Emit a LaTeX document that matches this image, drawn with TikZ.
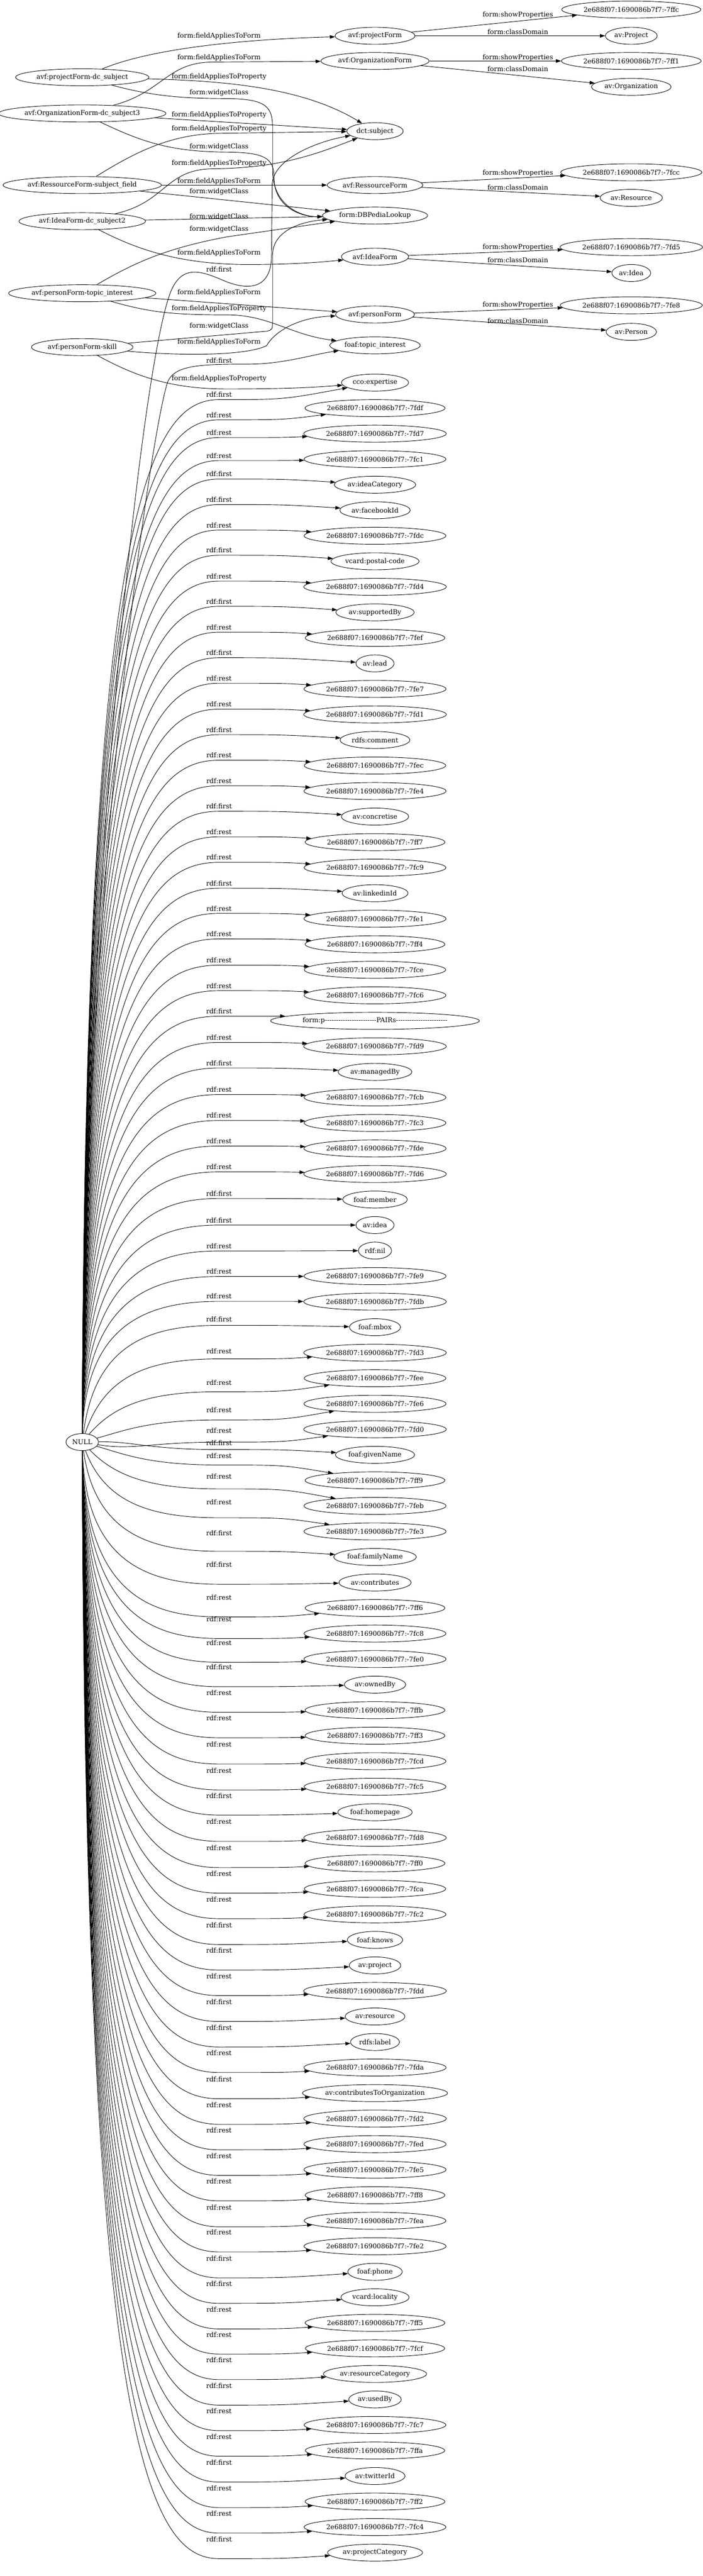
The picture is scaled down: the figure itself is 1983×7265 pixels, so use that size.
\documentclass[tikz,border=0pt]{standalone}
\usepackage{fontspec}
\setmainfont{DejaVu Serif}
\usetikzlibrary{arrows.meta, shapes.geometric}
\begin{document}
\begin{tikzpicture}[x=0.75pt, y=-0.75pt,
  res/.style={draw, ellipse, line width=1pt, minimum height=36pt, inner xsep=3pt, inner ysep=0pt, font=\fontsize{14}{16}\selectfont},
  lab/.style={inner sep=0pt, font=\fontsize{14}{16}\selectfont},
  rel/.style={line width=1pt, -{Triangle[length=11pt, width=7.5pt]}}]
\useasboundingbox (0,0) rectangle (1983,7265);
\def\cA{232}
\def\cB{1058}
\def\cC{1781}
\def\lA{618}
\def\lB{1461}
\def\hy{-\kern0pt}
\def\dashrun{\hy\hy\hy\hy\hy\hy\hy\hy\hy\hy\hy\hy\hy\hy\hy\hy\hy\hy\hy\hy\hy\hy\hy}

\node[res] (pfs) at (\cA,218) {avf:projectForm-dc\_subject};
\node[res] (ofs) at (\cA,320) {avf:OrganizationForm-dc\_subject3};
\node[res] (rfs) at (\cA,522) {avf:RessourceForm-subject\_field};
\node[res] (ifs) at (\cA,624) {avf:IdeaForm-dc\_subject2};
\node[res] (pti) at (\cA,827) {avf:personForm-topic\_interest};
\node[res] (psk) at (\cA,979) {avf:personForm-skill};
\node[res] (null) at (\cA,4067) {NULL};

\node[res] (pf) at (\cB,101) {avf:projectForm};
\node[res] (of) at (\cB,172) {avf:OrganizationForm};
\node[res] (dct) at (\cB,370) {dct:subject};
\node[res] (rf) at (\cB,522) {avf:RessourceForm};
\node[res] (dbp) at (\cB,608) {form:DBPediaLookup};
\node[res] (idf) at (\cB,724) {avf:IdeaForm};
\node[res] (psf) at (\cB,887) {avf:personForm};
\node[res] (fti) at (\cB,974) {foaf:topic\_interest};

\node[res] (sp1) at (\cC,27) {2e688f07:1690086b7f7:-7ffc};
\node[res] (dPro) at (\cC,101) {av:Project};
\node[res] (sp2) at (\cC,172) {2e688f07:1690086b7f7:-7ff1};
\node[res] (dOrg) at (\cC,245) {av:Organization};
\node[res] (sp3) at (\cC,486) {2e688f07:1690086b7f7:-7fcc};
\node[res] (dRes) at (\cC,558) {av:Resource};
\node[res] (sp4) at (\cC,697) {2e688f07:1690086b7f7:-7fd5};
\node[res] (dIde) at (\cC,770) {av:Idea};
\node[res] (sp5) at (\cC,861) {2e688f07:1690086b7f7:-7fe8};
\node[res] (dPer) at (\cC,936) {av:Person};

\draw[rel] (pf) -- (sp1);
\node[lab] at (\lB,42) {form:showProperties};
\draw[rel] (pf) -- (dPro);
\node[lab] at (\lB,90) {form:classDomain};
\draw[rel] (of) -- (sp2);
\node[lab] at (\lB,162) {form:showProperties};
\draw[rel] (of) -- (dOrg);
\node[lab] at (\lB,194) {form:classDomain};
\draw[rel] (rf) -- (sp3);
\node[lab] at (\lB,488) {form:showProperties};
\draw[rel] (rf) -- (dRes);
\node[lab] at (\lB,528) {form:classDomain};
\draw[rel] (idf) -- (sp4);
\node[lab] at (\lB,697) {form:showProperties};
\draw[rel] (idf) -- (dIde);
\node[lab] at (\lB,733) {form:classDomain};
\draw[rel] (psf) -- (sp5);
\node[lab] at (\lB,860) {form:showProperties};
\draw[rel] (psf) -- (dPer);
\node[lab] at (\lB,905) {form:classDomain};

\draw[rel] (pfs) .. controls (430,135) and (700,110) .. (pf);
\node[lab] at (\lA,101) {form:fieldAppliesToForm};
\draw[rel] (ofs) .. controls (460,260) and (470,176) .. (600,175) -- (of);
\node[lab] at (\lA,162) {form:fieldAppliesToForm};
\draw[rel] (pfs) .. controls (650,228) and (860,250) .. (dct);
\node[lab] at (\lA,216) {form:fieldAppliesToProperty};
\draw[rel] (pfs) .. controls (420,268) and (500,278) .. (640,278) .. controls (750,279) and (769,300) .. (769,360) -- (769,480) .. controls (769,580) and (850,612) .. (dbp);
\node[lab] at (\lA,262) {form:widgetClass};
\draw[rel] (ofs) -- (dct);
\node[lab] at (\lA,324) {form:fieldAppliesToProperty};
\draw[rel] (ofs) .. controls (400,400) and (480,428) .. (640,429) .. controls (745,430) and (773,445) .. (773,500) .. controls (773,585) and (850,612) .. (dbp);
\node[lab] at (\lA,414) {form:widgetClass};
\draw[rel] (rfs) .. controls (380,430) and (480,378) .. (620,376) -- (dct);
\node[lab] at (\lA,364) {form:fieldAppliesToProperty};
\draw[rel] (ifs) .. controls (470,570) and (465,478) .. (600,476) .. controls (780,474) and (880,440) .. (dct);
\node[lab] at (\lA,460) {form:fieldAppliesToProperty};
\draw[rel] (rfs) -- (rf);
\node[lab] at (\lA,512) {form:fieldAppliesToForm};
\draw[rel] (rfs) -- (dbp);
\node[lab] at (\lA,541) {form:widgetClass};
\draw[rel] (ifs) -- (dbp);
\node[lab] at (\lA,612) {form:widgetClass};
\draw[rel] (pti) .. controls (380,740) and (470,700) .. (640,668) -- (dbp);
\node[lab] at (\lA,646) {form:widgetClass};
\draw[rel] (ifs) .. controls (380,700) and (500,746) .. (700,746) .. controls (820,746) and (900,740) .. (idf);
\node[lab] at (\lA,713) {form:fieldAppliesToForm};
\draw[rel] (null) .. controls (240,2500) and (400,1000) .. (485,815) .. controls (520,740) and (580,770) .. (640,795) .. controls (720,825) and (766,800) .. (766,720) -- (768,520) .. controls (770,450) and (890,400) .. (dct);
\node[lab] at (\lA,760) {rdf:first};
\draw[rel] (pti) -- (psf);
\node[lab] at (\lA,825) {form:fieldAppliesToForm};
\draw[rel] (pti) .. controls (420,880) and (480,888) .. (640,888) .. controls (760,888) and (820,945) .. (fti);
\node[lab] at (\lA,870) {form:fieldAppliesToProperty};
\draw[rel] (psk) -- (753,934) .. controls (769,930) .. (769,900) -- (769,720) .. controls (769,650) and (850,625) .. (dbp);
\node[lab] at (\lA,920) {form:widgetClass};
\draw[rel] (psk) .. controls (500,1003) and (690,1005) .. (752,975) .. controls (775,935) and (840,895) .. (psf);
\node[lab] at (\lA,965) {form:fieldAppliesToForm};
\draw[rel] (null) .. controls (240,2500) and (420,1250) .. (472,1080) .. controls (490,1030) and (560,1027) .. (700,1027) .. controls (800,1027) and (880,1000) .. (fti);
\node[lab] at (\lA,1016) {rdf:first};

\foreach \idx/\txt/\rl/\off in {
0/cco:expertise/first/34,
1/2e688f07:1690086b7f7:-7fdf/rest/19,
2/2e688f07:1690086b7f7:-7fd7/rest/-3,
3/2e688f07:1690086b7f7:-7fc1/rest/-10,
4/av:ideaCategory/first/-30,
5/av:facebookId/first/-30,
6/2e688f07:1690086b7f7:-7fdc/rest/-30,
7/vcard:postal-code/first/-31,
8/2e688f07:1690086b7f7:-7fd4/rest/-30,
9/av:supportedBy/first/-31,
10/2e688f07:1690086b7f7:-7fef/rest/-30,
11/av:lead/first/-30,
12/2e688f07:1690086b7f7:-7fe7/rest/-30,
13/2e688f07:1690086b7f7:-7fd1/rest/-29,
14/rdfs:comment/first/-29,
15/2e688f07:1690086b7f7:-7fec/rest/-29,
16/2e688f07:1690086b7f7:-7fe4/rest/-29,
17/av:concretise/first/-29,
18/2e688f07:1690086b7f7:-7ff7/rest/-29,
19/2e688f07:1690086b7f7:-7fc9/rest/-29,
20/av:linkedinId/first/-28,
21/2e688f07:1690086b7f7:-7fe1/rest/-29,
22/2e688f07:1690086b7f7:-7ff4/rest/-29,
23/2e688f07:1690086b7f7:-7fce/rest/-27,
24/2e688f07:1690086b7f7:-7fc6/rest/-27,
25/form:p\dashrun PAIRs\dashrun/first/-27,
26/2e688f07:1690086b7f7:-7fd9/rest/-25,
27/av:managedBy/first/-25,
28/2e688f07:1690086b7f7:-7fcb/rest/-22,
29/2e688f07:1690086b7f7:-7fc3/rest/-21,
30/2e688f07:1690086b7f7:-7fde/rest/-21,
31/2e688f07:1690086b7f7:-7fd6/rest/-20,
32/foaf:member/first/-17,
33/av:idea/first/-14,
34/rdf:nil/rest/-13,
35/2e688f07:1690086b7f7:-7fe9/rest/-13,
36/2e688f07:1690086b7f7:-7fdb/rest/-15,
37/foaf:mbox/first/-23,
38/2e688f07:1690086b7f7:-7fd3/rest/-4,
39/2e688f07:1690086b7f7:-7fee/rest/13,
40/2e688f07:1690086b7f7:-7fe6/rest/17,
41/2e688f07:1690086b7f7:-7fd0/rest/4,
42/foaf:givenName/first/-33,
43/2e688f07:1690086b7f7:-7ff9/rest/-70,
44/2e688f07:1690086b7f7:-7feb/rest/-83,
45/2e688f07:1690086b7f7:-7fe3/rest/-82,
46/foaf:familyName/first/-68,
47/av:contributes/first/-50,
48/2e688f07:1690086b7f7:-7ff6/rest/-30,
49/2e688f07:1690086b7f7:-7fc8/rest/-41,
50/2e688f07:1690086b7f7:-7fe0/rest/-46,
51/av:ownedBy/first/-49,
52/2e688f07:1690086b7f7:-7ffb/rest/-49,
53/2e688f07:1690086b7f7:-7ff3/rest/-49,
54/2e688f07:1690086b7f7:-7fcd/rest/-47,
55/2e688f07:1690086b7f7:-7fc5/rest/-46,
56/foaf:homepage/first/-47,
57/2e688f07:1690086b7f7:-7fd8/rest/-45,
58/2e688f07:1690086b7f7:-7ff0/rest/-43,
59/2e688f07:1690086b7f7:-7fca/rest/-43,
60/2e688f07:1690086b7f7:-7fc2/rest/-43,
61/foaf:knows/first/-42,
62/av:project/first/-42,
63/2e688f07:1690086b7f7:-7fdd/rest/-42,
64/av:resource/first/-41,
65/rdfs:label/first/-41,
66/2e688f07:1690086b7f7:-7fda/rest/-41,
67/av:contributesToOrganization/first/-39,
68/2e688f07:1690086b7f7:-7fd2/rest/-39,
69/2e688f07:1690086b7f7:-7fed/rest/-39,
70/2e688f07:1690086b7f7:-7fe5/rest/-39,
71/2e688f07:1690086b7f7:-7ff8/rest/-39,
72/2e688f07:1690086b7f7:-7fea/rest/-38,
73/2e688f07:1690086b7f7:-7fe2/rest/-39,
74/foaf:phone/first/-38,
75/vcard:locality/first/-38,
76/2e688f07:1690086b7f7:-7ff5/rest/-38,
77/2e688f07:1690086b7f7:-7fcf/rest/-39,
78/av:resourceCategory/first/-39,
79/av:usedBy/first/-39,
80/2e688f07:1690086b7f7:-7fc7/rest/-39,
81/2e688f07:1690086b7f7:-7ffa/rest/-39,
82/av:twitterId/first/-38,
83/2e688f07:1690086b7f7:-7ff2/rest/-38,
84/2e688f07:1690086b7f7:-7fc4/rest/-38,
85/av:projectCategory/first/-38}{
  \pgfmathsetmacro\yt{1079+72*\idx}
  \pgfmathsetmacro\dy{\yt-4067}
  \pgfmathsetmacro\ad{abs(\dy)}
  \pgfmathsetmacro\g{\dy<0 ? 14+20*max(0,1-\ad/400) : 14+41*min(1,\dy/350)}
  \pgfmathsetmacro\py{\yt+(\off)+\g}
  \pgfmathsetmacro\cx{240+150*max(0,1-\ad/400)}
  \pgfmathsetmacro\cy{\dy<0 ? \py+0.1*\ad+20 : \py-0.1*\ad-20}
  \node[res] (n\idx) at (\cB,\yt) {\txt};
  \node[lab] at (\lA,\yt+\off) {rdf:\rl};
  \draw[rel] (null) .. controls (\cx,\cy) and (420,\py) .. (\lA,\py) .. controls (800,\py) .. (n\idx);
}

\draw[rel] (psk) .. controls (380,1060) and (480,1097) .. (640,1097) .. controls (800,1097) and (880,1093) .. (n0);
\node[lab] at (\lA,1068) {form:fieldAppliesToProperty};
\end{tikzpicture}
\end{document}
